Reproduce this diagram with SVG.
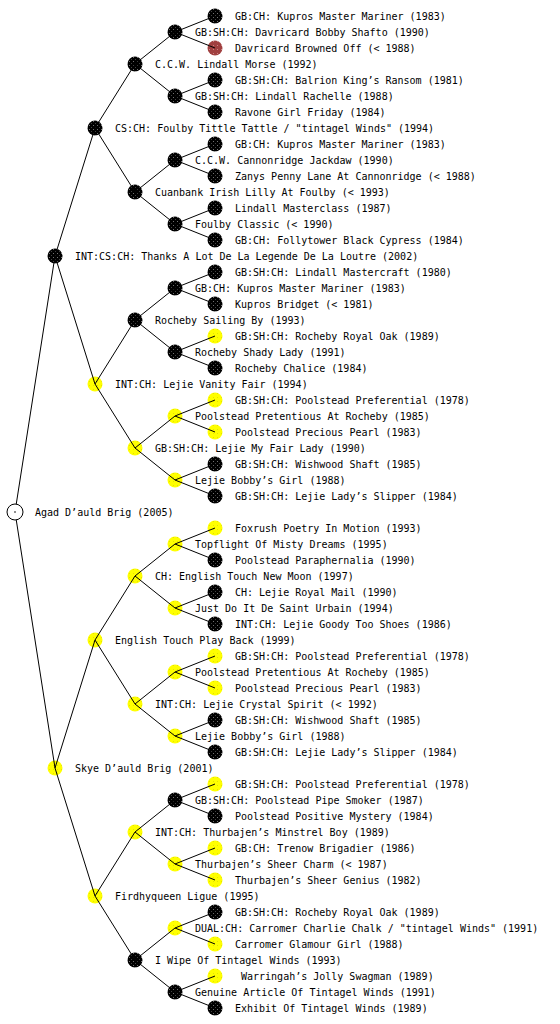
<svg xmlns="http://www.w3.org/2000/svg" width="560" height="1024" viewBox="0 0 560 1024">
<style>
text{font-family:"DejaVu Sans Mono","Liberation Mono",monospace;font-size:10px;fill:#000}
.b{fill:url(#pb)}
.y{fill:url(#py)}
.r{fill:url(#pr)}
.c{stroke:#000;stroke-width:1;fill:none}
</style>
<defs>
<pattern id="pb" width="4" height="4" patternUnits="userSpaceOnUse"><rect width="4" height="4" fill="#000"/><rect x="1" y="1" width="1" height="1" fill="#fff" fill-opacity="0.45"/><rect x="3" y="3" width="1" height="1" fill="#fff" fill-opacity="0.25"/></pattern>
<pattern id="py" width="4" height="4" patternUnits="userSpaceOnUse"><rect width="4" height="4" fill="#ffff00"/><rect x="1" y="1" width="1" height="1" fill="#c8c800" fill-opacity="0.5"/></pattern>
<pattern id="pr" width="4" height="4" patternUnits="userSpaceOnUse"><rect width="4" height="4" fill="#a04040"/><rect x="1" y="1" width="1" height="1" fill="#e0a0a0" fill-opacity="0.7"/></pattern>
</defs>
<rect width="560" height="1024" fill="#fff"/>
<g id="n0"><circle class="b" cx="215" cy="16" r="7.5"/><text x="235" y="20">GB:CH: Kupros Master Mariner (1983)</text></g>
<g id="n1"><circle class="b" cx="175" cy="32" r="7.5"/><text x="195" y="36">GB:SH:CH: Davricard Bobby Shafto (1990)</text></g>
<g id="n2"><circle class="r" cx="215" cy="48" r="7.5"/><text x="235" y="52">Davricard Browned Off (&lt; 1988)</text></g>
<g id="n3"><circle class="b" cx="135" cy="64" r="7.5"/><text x="155" y="68">C.C.W. Lindall Morse (1992)</text></g>
<g id="n4"><circle class="b" cx="215" cy="80" r="7.5"/><text x="235" y="84">GB:SH:CH: Balrion King’s Ransom (1981)</text></g>
<g id="n5"><circle class="b" cx="175" cy="96" r="7.5"/><text x="195" y="100">GB:SH:CH: Lindall Rachelle (1988)</text></g>
<g id="n6"><circle class="b" cx="215" cy="112" r="7.5"/><text x="235" y="116">Ravone Girl Friday (1984)</text></g>
<g id="n7"><circle class="b" cx="95" cy="128" r="7.5"/><text x="115" y="132">CS:CH: Foulby Tittle Tattle / "tintagel Winds" (1994)</text></g>
<g id="n8"><circle class="b" cx="215" cy="144" r="7.5"/><text x="235" y="148">GB:CH: Kupros Master Mariner (1983)</text></g>
<g id="n9"><circle class="b" cx="175" cy="160" r="7.5"/><text x="195" y="164">C.C.W. Cannonridge Jackdaw (1990)</text></g>
<g id="n10"><circle class="b" cx="215" cy="176" r="7.5"/><text x="235" y="180">Zanys Penny Lane At Cannonridge (&lt; 1988)</text></g>
<g id="n11"><circle class="b" cx="135" cy="192" r="7.5"/><text x="155" y="196">Cuanbank Irish Lilly At Foulby (&lt; 1993)</text></g>
<g id="n12"><circle class="b" cx="215" cy="208" r="7.5"/><text x="235" y="212">Lindall Masterclass (1987)</text></g>
<g id="n13"><circle class="b" cx="175" cy="224" r="7.5"/><text x="195" y="228">Foulby Classic (&lt; 1990)</text></g>
<g id="n14"><circle class="b" cx="215" cy="240" r="7.5"/><text x="235" y="244">GB:CH: Follytower Black Cypress (1984)</text></g>
<g id="n15"><circle class="b" cx="55" cy="256" r="7.5"/><text x="75" y="260">INT:CS:CH: Thanks A Lot De La Legende De La Loutre (2002)</text></g>
<g id="n16"><circle class="b" cx="215" cy="272" r="7.5"/><text x="235" y="276">GB:SH:CH: Lindall Mastercraft (1980)</text></g>
<g id="n17"><circle class="b" cx="175" cy="288" r="7.5"/><text x="195" y="292">GB:CH: Kupros Master Mariner (1983)</text></g>
<g id="n18"><circle class="b" cx="215" cy="304" r="7.5"/><text x="235" y="308">Kupros Bridget (&lt; 1981)</text></g>
<g id="n19"><circle class="b" cx="135" cy="320" r="7.5"/><text x="155" y="324">Rocheby Sailing By (1993)</text></g>
<g id="n20"><circle class="y" cx="215" cy="336" r="7.5"/><text x="235" y="340">GB:SH:CH: Rocheby Royal Oak (1989)</text></g>
<g id="n21"><circle class="b" cx="175" cy="352" r="7.5"/><text x="195" y="356">Rocheby Shady Lady (1991)</text></g>
<g id="n22"><circle class="b" cx="215" cy="368" r="7.5"/><text x="235" y="372">Rocheby Chalice (1984)</text></g>
<g id="n23"><circle class="y" cx="95" cy="384" r="7.5"/><text x="115" y="388">INT:CH: Lejie Vanity Fair (1994)</text></g>
<g id="n24"><circle class="y" cx="215" cy="400" r="7.5"/><text x="235" y="404">GB:SH:CH: Poolstead Preferential (1978)</text></g>
<g id="n25"><circle class="y" cx="175" cy="416" r="7.5"/><text x="195" y="420">Poolstead Pretentious At Rocheby (1985)</text></g>
<g id="n26"><circle class="y" cx="215" cy="432" r="7.5"/><text x="235" y="436">Poolstead Precious Pearl (1983)</text></g>
<g id="n27"><circle class="y" cx="135" cy="448" r="7.5"/><text x="155" y="452">GB:SH:CH: Lejie My Fair Lady (1990)</text></g>
<g id="n28"><circle class="b" cx="215" cy="464" r="7.5"/><text x="235" y="468">GB:SH:CH: Wishwood Shaft (1985)</text></g>
<g id="n29"><circle class="y" cx="175" cy="480" r="7.5"/><text x="195" y="484">Lejie Bobby’s Girl (1988)</text></g>
<g id="n30"><circle class="b" cx="215" cy="496" r="7.5"/><text x="235" y="500">GB:SH:CH: Lejie Lady’s Slipper (1984)</text></g>
<g id="n32"><circle class="y" cx="215" cy="528" r="7.5"/><text x="235" y="532">Foxrush Poetry In Motion (1993)</text></g>
<g id="n33"><circle class="y" cx="175" cy="544" r="7.5"/><text x="195" y="548">Topflight Of Misty Dreams (1995)</text></g>
<g id="n34"><circle class="b" cx="215" cy="560" r="7.5"/><text x="235" y="564">Poolstead Paraphernalia (1990)</text></g>
<g id="n35"><circle class="y" cx="135" cy="576" r="7.5"/><text x="155" y="580">CH: English Touch New Moon (1997)</text></g>
<g id="n36"><circle class="b" cx="215" cy="592" r="7.5"/><text x="235" y="596">CH: Lejie Royal Mail (1990)</text></g>
<g id="n37"><circle class="y" cx="175" cy="608" r="7.5"/><text x="195" y="612">Just Do It De Saint Urbain (1994)</text></g>
<g id="n38"><circle class="b" cx="215" cy="624" r="7.5"/><text x="235" y="628">INT:CH: Lejie Goody Too Shoes (1986)</text></g>
<g id="n39"><circle class="y" cx="95" cy="640" r="7.5"/><text x="115" y="644">English Touch Play Back (1999)</text></g>
<g id="n40"><circle class="y" cx="215" cy="656" r="7.5"/><text x="235" y="660">GB:SH:CH: Poolstead Preferential (1978)</text></g>
<g id="n41"><circle class="y" cx="175" cy="672" r="7.5"/><text x="195" y="676">Poolstead Pretentious At Rocheby (1985)</text></g>
<g id="n42"><circle class="y" cx="215" cy="688" r="7.5"/><text x="235" y="692">Poolstead Precious Pearl (1983)</text></g>
<g id="n43"><circle class="y" cx="135" cy="704" r="7.5"/><text x="155" y="708">INT:CH: Lejie Crystal Spirit (&lt; 1992)</text></g>
<g id="n44"><circle class="b" cx="215" cy="720" r="7.5"/><text x="235" y="724">GB:SH:CH: Wishwood Shaft (1985)</text></g>
<g id="n45"><circle class="y" cx="175" cy="736" r="7.5"/><text x="195" y="740">Lejie Bobby’s Girl (1988)</text></g>
<g id="n46"><circle class="b" cx="215" cy="752" r="7.5"/><text x="235" y="756">GB:SH:CH: Lejie Lady’s Slipper (1984)</text></g>
<g id="n47"><circle class="y" cx="55" cy="768" r="7.5"/><text x="75" y="772">Skye D’auld Brig (2001)</text></g>
<g id="n48"><circle class="y" cx="215" cy="784" r="7.5"/><text x="235" y="788">GB:SH:CH: Poolstead Preferential (1978)</text></g>
<g id="n49"><circle class="b" cx="175" cy="800" r="7.5"/><text x="195" y="804">GB:SH:CH: Poolstead Pipe Smoker (1987)</text></g>
<g id="n50"><circle class="b" cx="215" cy="816" r="7.5"/><text x="235" y="820">Poolstead Positive Mystery (1984)</text></g>
<g id="n51"><circle class="y" cx="135" cy="832" r="7.5"/><text x="155" y="836">INT:CH: Thurbajen’s Minstrel Boy (1989)</text></g>
<g id="n52"><circle class="y" cx="215" cy="848" r="7.5"/><text x="235" y="852">GB:CH: Trenow Brigadier (1986)</text></g>
<g id="n53"><circle class="y" cx="175" cy="864" r="7.5"/><text x="195" y="868">Thurbajen’s Sheer Charm (&lt; 1987)</text></g>
<g id="n54"><circle class="y" cx="215" cy="880" r="7.5"/><text x="235" y="884">Thurbajen’s Sheer Genius (1982)</text></g>
<g id="n55"><circle class="y" cx="95" cy="896" r="7.5"/><text x="115" y="900">Firdhyqueen Ligue (1995)</text></g>
<g id="n56"><circle class="b" cx="215" cy="912" r="7.5"/><text x="235" y="916">GB:SH:CH: Rocheby Royal Oak (1989)</text></g>
<g id="n57"><circle class="y" cx="175" cy="928" r="7.5"/><text x="195" y="932">DUAL:CH: Carromer Charlie Chalk / "tintagel Winds" (1991)</text></g>
<g id="n58"><circle class="y" cx="215" cy="944" r="7.5"/><text x="235" y="948">Carromer Glamour Girl (1988)</text></g>
<g id="n59"><circle class="b" cx="135" cy="960" r="7.5"/><text x="155" y="964">I Wipe Of Tintagel Winds (1993)</text></g>
<g id="n60"><circle class="y" cx="215" cy="976" r="7.5"/><text x="241" y="980">Warringah’s Jolly Swagman (1989)</text></g>
<g id="n61"><circle class="b" cx="175" cy="992" r="7.5"/><text x="195" y="996">Genuine Article Of Tintagel Winds (1991)</text></g>
<g id="n62"><circle class="b" cx="215" cy="1008" r="7.5"/><text x="235" y="1012">Exhibit Of Tintagel Winds (1989)</text></g>
<g id="connectors" class="c">
<path d="M15 512L55 256M15 512L55 768
M55 256L95 128M55 256L95 384M55 768L95 640M55 768L95 896
M95 128L135 64M95 128L135 192M95 384L135 320M95 384L135 448M95 640L135 576M95 640L135 704M95 896L135 832M95 896L135 960
M135 64L175 32M135 64L175 96M135 192L175 160M135 192L175 224M135 320L175 288M135 320L175 352M135 448L175 416M135 448L175 480
M135 576L175 544M135 576L175 608M135 704L175 672M135 704L175 736M135 832L175 800M135 832L175 864M135 960L175 928M135 960L175 992
M175 32L215 16M175 32L215 48M175 96L215 80M175 96L215 112M175 160L215 144M175 160L215 176M175 224L215 208M175 224L215 240
M175 288L215 272M175 288L215 304M175 352L215 336M175 352L215 368M175 416L215 400M175 416L215 432M175 480L215 464M175 480L215 496
M175 544L215 528M175 544L215 560M175 608L215 592M175 608L215 624M175 672L215 656M175 672L215 688M175 736L215 720M175 736L215 752
M175 800L215 784M175 800L215 816M175 864L215 848M175 864L215 880M175 928L215 912M175 928L215 944M175 992L215 976M175 992L215 1008"/>
</g>
<g id="n31"><circle cx="15" cy="512" r="8" fill="#fff" stroke="#000" stroke-width="1"/><circle cx="15" cy="512" r="0.8" fill="#000"/><text x="35" y="516">Agad D’auld Brig (2005)</text></g>
</svg>
